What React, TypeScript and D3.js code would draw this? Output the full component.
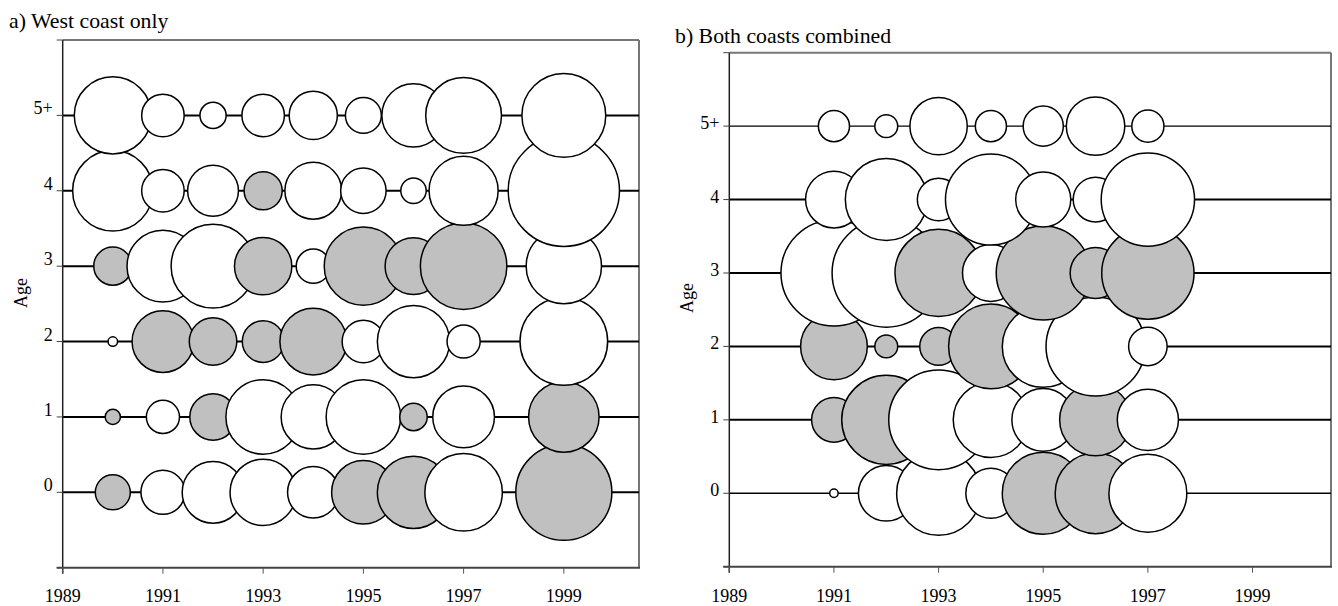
import React from "react";
import * as d3 from "d3";

// ---- data ----
const ageLabels = ["0", "1", "2", "3", "4", "5+"];
const xTickYears = [1989, 1991, 1993, 1995, 1997, 1999];

// Panel a) West coast only — residual values (negative = grey)
const westYears = [1990, 1991, 1992, 1993, 1994, 1995, 1996, 1997, 1999];
const westAge0 = [-1.9, 3.0, 5.9, 6.8, 4.1, -6.25, -8.1, 9.3, -14.3];
const westAge1 = [-0.36, 1.7, -3.35, 8.6, 6.4, 8.6, -1.17, 5.9, -7.7];
const westAge2 = [0.14, -5.9, -3.5, -2.7, -6.9, 2.8, 8.1, 1.7, 11.9];
const westAge3 = [-2.25, 8.0, 10.9, -5.1, 1.8, -9.5, -5.0, -11.6, 8.8];
const westAge4 = [10.0, 2.8, 4.0, -2.25, 5.0, 3.2, 1.0, 7.4, 19.2];
const westAge5 = [9.2, 2.8, 1.06, 2.8, 3.6, 2.0, 6.2, 8.9, 10.9];

// Panel b) Both coasts combined
const bothYears = [1991, 1992, 1993, 1994, 1995, 1996, 1997];
const bothAge0 = [0.11, 4.8, 10.9, 3.9, -10.4, -10.1, 9.4];
const bothAge1 = [-3.1, -12.3, 15.4, 8.8, 6.1, -8.0, 5.8];
const bothAge2 = [-6.9, -0.81, -2.2, -11.1, 10.4, 15.2, 2.3];
const bothAge3 = [17.4, 18.2, -11.8, 5.0, -13.7, -4.0, -13.2];
const bothAge4 = [5.0, 10.4, 2.8, 12.8, 4.7, 3.1, 13.5];
const bothAge5 = [1.5, 0.81, 5.1, 1.5, 2.5, 5.3, 1.6];

const westRows = [westAge0, westAge1, westAge2, westAge3, westAge4, westAge5];
const bothRows = [bothAge0, bothAge1, bothAge2, bothAge3, bothAge4, bothAge5];

const FONT = "'Liberation Serif', 'Times New Roman', Times, serif";

type PanelProps = {
  title: string;
  titleX: number;
  titleY: number;
  x0: number;
  x1: number;
  yTop: number;
  yBottom: number;
  years: number[];
  rows: number[][];
  lineWidths: number[];
  ageX: number;
  ageY: number;
  labelDy: number;
};

const rScale = d3.scaleSqrt().domain([0, 1]).range([0, 12.7]);

function Panel(p: PanelProps) {
  const x = d3.scaleLinear().domain([1989, 2000.5]).range([p.x0, p.x1]);
  const y = d3.scaleLinear().domain([-1, 6]).range([p.yBottom, p.yTop]);
  const yTicks = d3.range(-1, 7);
  return (
    <g>
      <text x={p.titleX} y={p.titleY} fontFamily={FONT} fontSize={21.8} fill="#000">
        {p.title}
      </text>
      {/* frame top / right */}
      <line x1={p.x0} x2={p.x1} y1={p.yTop} y2={p.yTop} stroke="#777" strokeWidth={2} />
      <line x1={p.x1} x2={p.x1} y1={p.yTop} y2={p.yBottom} stroke="#777" strokeWidth={2} />
      {/* row lines */}
      {ageLabels.map((_, i) => (
        <line
          key={"l" + i}
          x1={p.x0}
          x2={p.x1}
          y1={y(i)}
          y2={y(i)}
          stroke="#000"
          strokeWidth={p.lineWidths[i]}
        />
      ))}
      {/* bubbles */}
      {p.rows.map((vals, i) =>
        vals.map((v, j) => (
          <circle
            key={"c" + i + "-" + j}
            cx={x(p.years[j])}
            cy={y(i)}
            r={rScale(Math.abs(v))}
            fill={v < 0 ? "#c0c0c0" : "#fff"}
            stroke="#000"
            strokeWidth={1.5}
          />
        ))
      )}
      {/* left axis */}
      <line x1={p.x0} x2={p.x0} y1={p.yTop} y2={p.yBottom + 6} stroke="#222" strokeWidth={1.5} />
      {yTicks.map((t) => (
        <line key={"yt" + t} x1={p.x0 - 6} x2={p.x0} y1={y(t)} y2={y(t)} stroke="#444" strokeWidth={1} />
      ))}
      {ageLabels.map((lab, i) => (
        <text
          key={"yl" + i}
          x={p.x0 - 10}
          y={y(i) + p.labelDy}
          textAnchor="end"
          fontFamily={FONT}
          fontSize={18}
          fill="#000"
        >
          {lab}
        </text>
      ))}
      {/* bottom axis */}
      <line x1={p.x0 - 6} x2={p.x1 + 1} y1={p.yBottom} y2={p.yBottom} stroke="#444" strokeWidth={2} />
      {xTickYears.map((t) => (
        <line key={"xt" + t} x1={x(t)} x2={x(t)} y1={p.yBottom} y2={p.yBottom + 6} stroke="#555" strokeWidth={1} />
      ))}
      {xTickYears.map((t) => (
        <text
          key={"xl" + t}
          x={x(t)}
          y={602}
          textAnchor="middle"
          fontFamily={FONT}
          fontSize={18}
          fill="#000"
        >
          {t}
        </text>
      ))}
      <text
        transform={`translate(${p.ageX},${p.ageY}) rotate(-90)`}
        textAnchor="middle"
        fontFamily={FONT}
        fontSize={18}
        fill="#000"
      >
        Age
      </text>
    </g>
  );
}

export default function App() {
  return (
    <svg
      width={1338}
      height={606}
      style={{ position: "absolute", left: 0, top: 0, background: "#fff" }}
    >
      <rect x={0} y={0} width={1338} height={606} fill="#fff" />
      <Panel
        title="a) West coast only"
        titleX={9}
        titleY={28}
        x0={62.7}
        x1={639}
        yTop={40}
        yBottom={567.7}
        years={westYears}
        rows={westRows}
        lineWidths={[2, 2, 2, 2, 2, 2]}
        ageX={27}
        ageY={293}
        labelDy={-1}
      />
      <Panel
        title="b) Both coasts combined"
        titleX={675}
        titleY={42.5}
        x0={729.3}
        x1={1331}
        yTop={52.7}
        yBottom={566.7}
        years={bothYears}
        rows={bothRows}
        lineWidths={[1.3, 2, 2, 2, 2, 1.3]}
        ageX={693}
        ageY={298}
        labelDy={3}
      />
    </svg>
  );
}
